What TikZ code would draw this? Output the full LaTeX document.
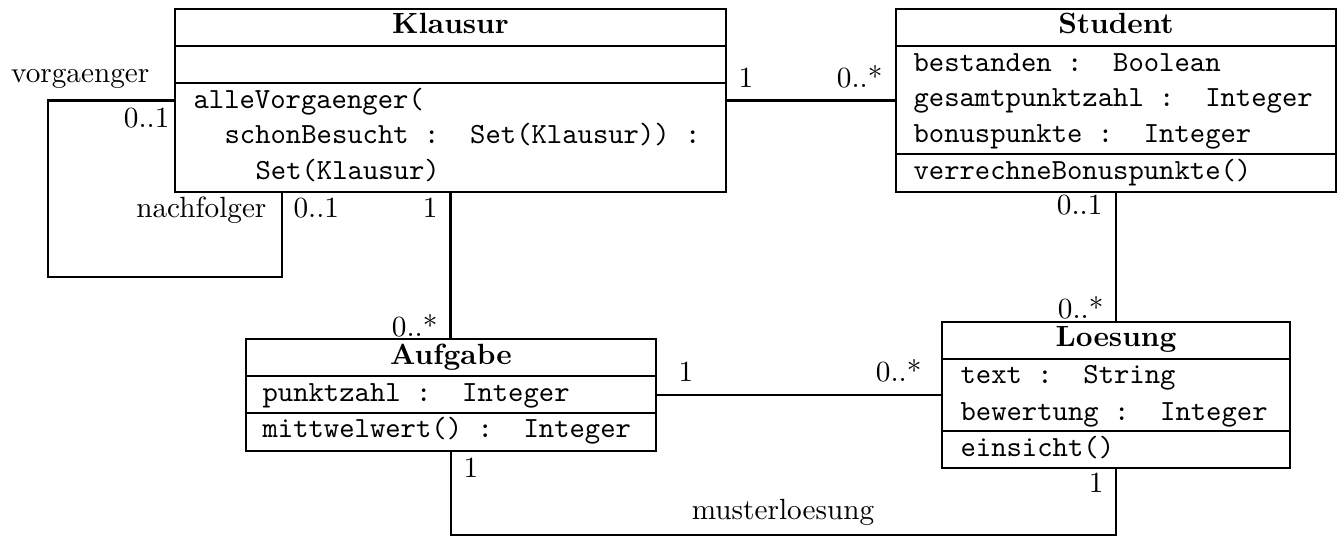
\documentclass[tikz,border=0pt]{standalone}
\usetikzlibrary{fit,shadows}
\begin{document}
\begin{tikzpicture}[x=0.342pt,y=-0.342pt,
  cls/.style={draw, fill=white, inner sep=0pt, line width=0.45pt,
    drop shadow={shadow xshift=0.5pt, shadow yshift=-0.5pt, fill=black!55, opacity=1}},
  sep/.style={line width=0.45pt},
  ttl/.style={font=\bfseries, anchor=base, inner sep=0pt},
  ln/.style={font=\ttfamily, anchor=base west, inner sep=0pt},
  lbe/.style={anchor=base east, inner sep=0pt},
  lbw/.style={anchor=base west, inner sep=0pt},
  assoc/.style={line width=0.7pt}]
\useasboundingbox (0,0) rectangle (1337,536);

% ---------- Klausur ----------
\node[cls, fit={(175,9) (726,192)}] (K) {};
\draw[sep] (175,46) -- (726,46);
\draw[sep] (175,83) -- (726,83);
\node[ttl] (Kt) at (450.5,34) {Klausur};
\node[ln] (Km1) at (193,109) {alleVorgaenger(};
\node[ln] (Km2) at (224,144) {schonBesucht :\ \ Set(Klausur)) :};
\node[ln] (Km3) at (255,180) {Set(Klausur)};

% ---------- Student ----------
\node[cls, fit={(896,9) (1336,192)}] (S) {};
\draw[sep] (896,46) -- (1336,46);
\draw[sep] (896,154) -- (1336,154);
\node[ttl] (St) at (1116,34) {Student};
\node[ln] (Sa1) at (913,72) {bestanden :\ \ Boolean};
\node[ln] (Sa2) at (913,107) {gesamtpunktzahl :\ \ Integer};
\node[ln] (Sa3) at (913,143) {bonuspunkte :\ \ Integer};
\node[ln] (Sm1) at (913,180) {verrechneBonuspunkte()};

% ---------- Aufgabe ----------
\node[cls, fit={(246,339) (656,451)}] (A) {};
\draw[sep] (246,376) -- (656,376);
\draw[sep] (246,413) -- (656,413);
\node[ttl] (At) at (451,365) {Aufgabe};
\node[ln] (Aa1) at (262,402) {punktzahl :\ \ Integer};
\node[ln] (Am1) at (262,438) {mittwelwert() :\ \ Integer};

% ---------- Loesung ----------
\node[cls, fit={(942,322) (1290,468)}] (L) {};
\draw[sep] (942,359) -- (1290,359);
\draw[sep] (942,431) -- (1290,431);
\node[ttl] (Lt) at (1116,347) {Loesung};
\node[ln] (La1) at (960,384) {text :\ \ String};
\node[ln] (La2) at (960,421) {bewertung :\ \ Integer};
\node[ln] (Lm1) at (960,457) {einsicht()};

% ---------- connectors ----------
\coordinate (LP1) at (48,277);
\coordinate (LP2) at (282,0);
\coordinate (MC) at (783,535);

\draw[assoc] (K.east) -- (S.west);
\draw[assoc] (K.west) -| (LP1) -| (K.south -| LP2);
\draw[assoc] (K.south) -- (K.south |- A.north);
\draw[assoc] (A.east) -- (A.east -| L.west);
\draw[assoc] (S.south) -- (S.south |- L.north);
\draw[assoc] (A.south) |- (MC) -| (L.south);

% ---------- labels ----------
\node[lbw] (lKS1) at (738,88) {1};
\node[lbe] (lKS2) at (883,88) {0..*};
\node[lbe] (lvor) at (150,83) {vorgaenger};
\node[lbe] (lvor1) at (170,128) {0..1};
\node[lbe] (lnach) at (267,218) {nachfolger};
\node[lbw] (lnach1) at (293,218) {0..1};
\node[lbe] (lKA1) at (438,218) {1};
\node[lbe] (lKA2) at (438,337) {0..*};
\node[lbw] (lAM1) at (463,478) {1};
\node[lbw] (lAL1) at (678,382) {1};
\node[lbe] (lAL2) at (922,382) {0..*};
\node[lbe] (lSL1) at (1103,215) {0..1};
\node[lbe] (lSL2) at (1104,319) {0..*};
\node[lbe] (lLM1) at (1104,493) {1};
\node[anchor=base, inner sep=0pt] (lmust) at (783,520) {musterloesung};
\end{tikzpicture}
\end{document}
